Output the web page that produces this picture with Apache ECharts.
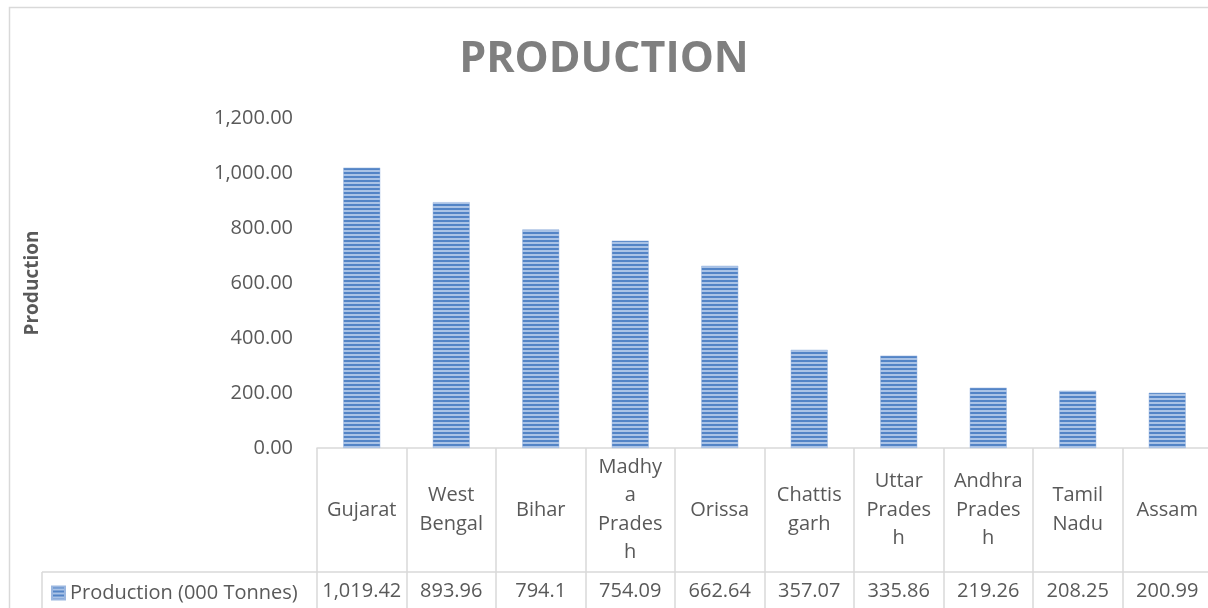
<!DOCTYPE html>
<html>
<head>
<meta charset="utf-8">
<script src="https://cdn.jsdelivr.net/npm/echarts@6/dist/echarts.min.js"></script>
<style>
html,body{margin:0;padding:0;background:#fff;}
#chart{width:1208px;height:608px;}
</style>
</head>
<body>
<div id="chart"></div>
<script>
const titleText = 'PRODUCTION';
const yAxisTitle = 'Production';
const seriesName = 'Production (000 Tonnes)';
const categories = ['Gujarat','West Bengal','Bihar','Madhya Pradesh','Orissa','Chattisgarh','Uttar Pradesh','Andhra Pradesh','Tamil Nadu','Assam'];
const categoryLabels = ['Gujarat','West\nBengal','Bihar','Madhy\na\nPrades\nh','Orissa','Chattis\ngarh','Uttar\nPrades\nh','Andhra\nPrades\nh','Tamil\nNadu','Assam'];
const production = [1019.42, 893.96, 794.1, 754.09, 662.64, 357.07, 335.86, 219.26, 208.25, 200.99];
const yTicks = { min: 0, max: 1200, interval: 200 };

const FONT = '"Open Sans", "Liberation Sans", sans-serif';
const TXT = '#595959';
const LINE = '#d9d9d9';

// striped fill pattern for bars
const pat = document.createElement('canvas');
pat.width = 8; pat.height = 4;
const pctx = pat.getContext('2d');
pctx.fillStyle = '#5384c6'; pctx.fillRect(0,0,8,2);
pctx.fillStyle = '#aac3e6'; pctx.fillRect(0,2,8,2);

const fmt = v => v.toLocaleString('en-US', { maximumFractionDigits: 2 });
const valueLabels = production.map(fmt);

const chart = echarts.init(document.getElementById('chart'), null, { renderer: 'canvas' });
chart.setOption({
  animation: false,
  backgroundColor: '#fff',
  title: {
    text: titleText,
    left: 'center',
    top: 33,
    textStyle: { fontFamily: FONT, fontSize: 43, fontWeight: 'bold', color: '#7f7f7f' }
  },
  legend: {
    left: 46,
    top: 578,
    icon: 'rect',
    itemWidth: 13,
    itemHeight: 13,
    itemGap: 8,
    textStyle: { fontFamily: FONT, fontSize: 20, color: TXT },
    data: [seriesName]
  },
  grid: { left: 317, top: 118, width: 895, height: 330, containLabel: false, outerBoundsMode: 'none' },
  xAxis: [
    {
      type: 'category',
      data: categoryLabels,
      position: 'bottom',
      axisLine: { show: true, lineStyle: { color: LINE, width: 1.5 } },
      axisTick: { show: true, length: 165, lineStyle: { color: LINE, width: 1.5 } },
      axisLabel: {
        interval: 0, margin: 62, verticalAlign: 'middle', align: 'center',
        fontFamily: FONT, fontSize: 20, color: TXT, lineHeight: 28.5
      },
      splitLine: { show: false }
    },
    {
      type: 'category',
      data: valueLabels,
      position: 'bottom',
      offset: 124,
      axisLine: { show: true, lineStyle: { color: LINE, width: 1.5 } },
      axisTick: { show: false },
      axisLabel: {
        interval: 0, margin: 19, verticalAlign: 'middle', align: 'center',
        fontFamily: FONT, fontSize: 20, color: TXT
      },
      splitLine: { show: false }
    }
  ],
  yAxis: {
    type: 'value',
    min: yTicks.min, max: yTicks.max, interval: yTicks.interval,
    name: yAxisTitle,
    nameLocation: 'middle',
    nameRotate: 90,
    nameGap: 275,
    nameTextStyle: { fontFamily: FONT, fontSize: 19, fontWeight: 'bold', color: TXT },
    axisLine: { show: false },
    axisTick: { show: false },
    splitLine: { show: false },
    axisLabel: {
      margin: 24,
      fontFamily: FONT, fontSize: 20, color: TXT,
      formatter: v => v.toLocaleString('en-US', { minimumFractionDigits: 2, maximumFractionDigits: 2 })
    }
  },
  series: [{
    name: seriesName,
    type: 'bar',
    xAxisIndex: 0,
    barWidth: 37,
    data: production,
    itemStyle: { color: { image: pat, repeat: 'repeat' }, borderColor: '#9bb7e0', borderWidth: 0.5 }
  }],
  graphic: [
    { type: 'rect', silent: true, shape: { x: 9.5, y: 7.5, width: 1400, height: 800 },
      style: { fill: 'none', stroke: LINE, lineWidth: 1.5 } },
    { type: 'line', silent: true, shape: { x1: 42, y1: 572, x2: 317, y2: 572 },
      style: { stroke: LINE, lineWidth: 1.5 } },
    { type: 'line', silent: true, shape: { x1: 42, y1: 572, x2: 42, y2: 610 },
      style: { stroke: LINE, lineWidth: 1.5 } }
  ]
});
</script>
</body>
</html>
